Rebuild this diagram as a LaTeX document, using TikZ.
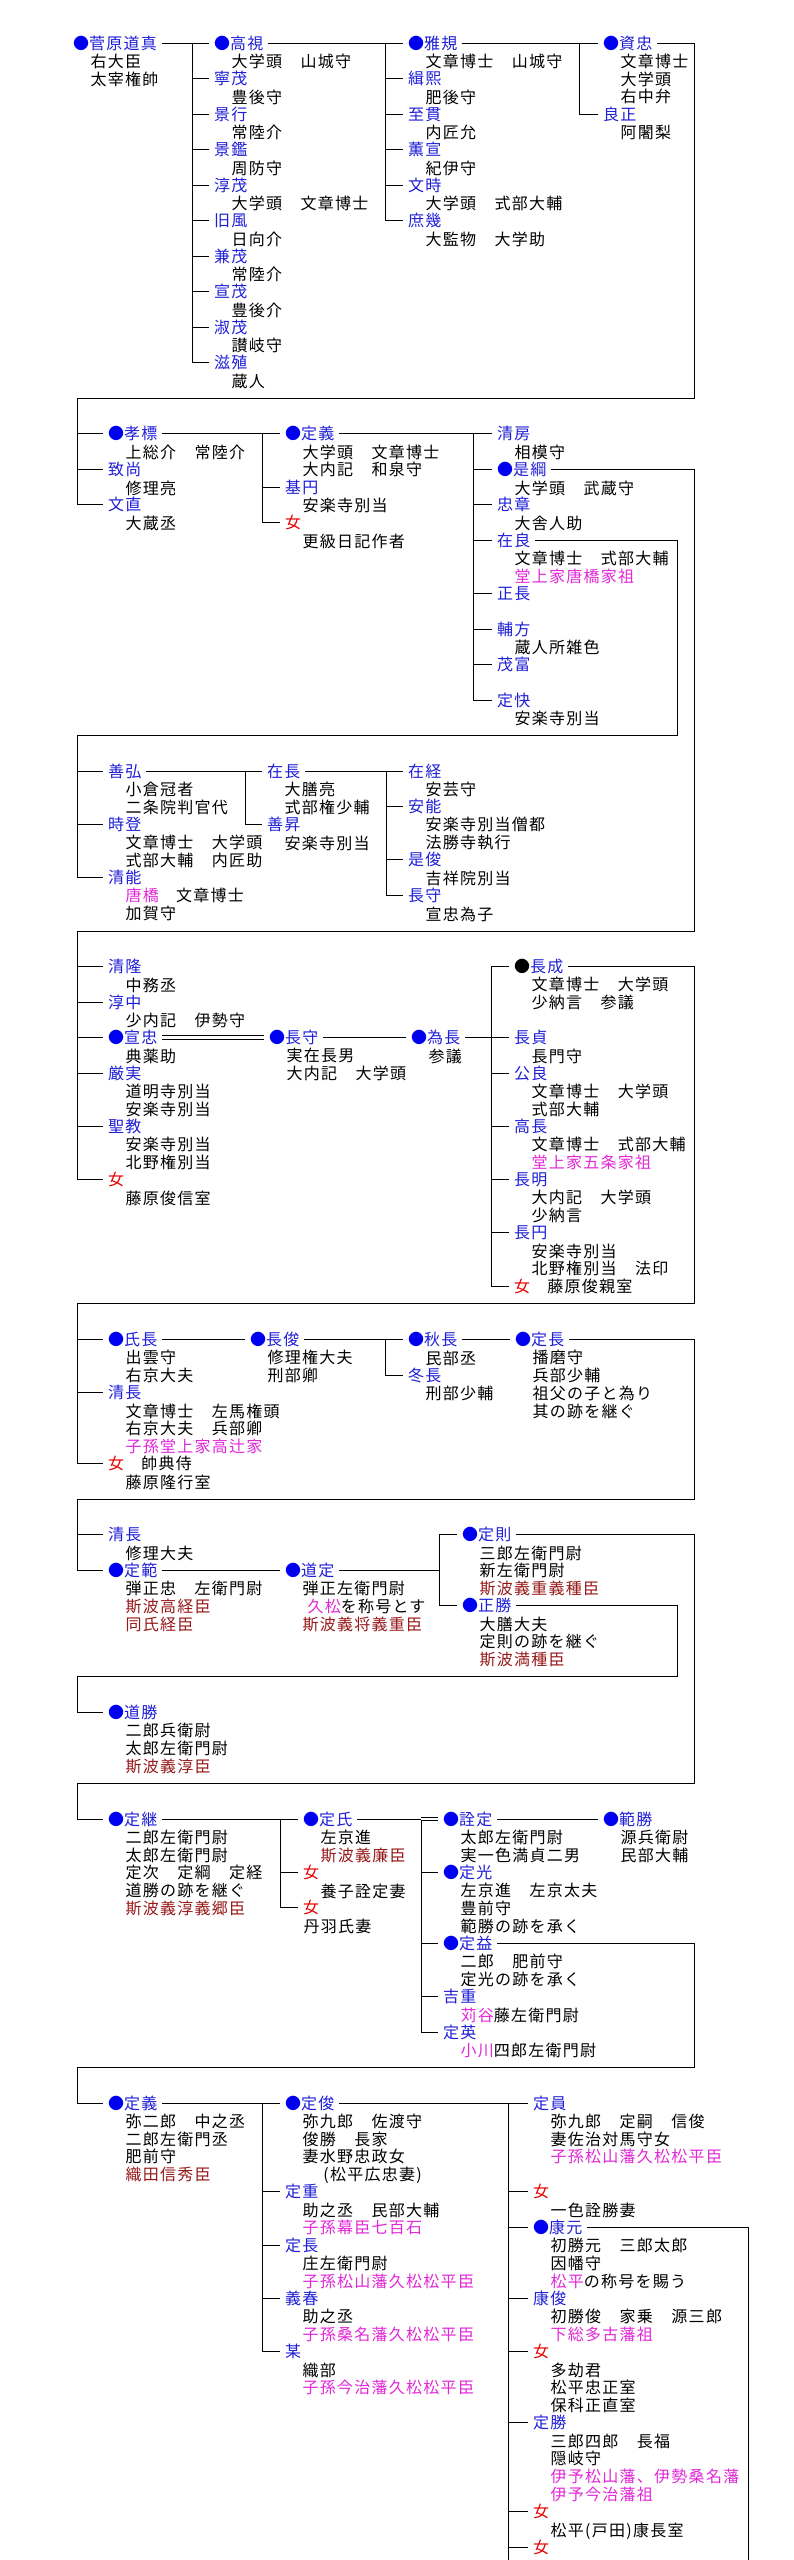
\documentclass[tikz,border=0pt]{standalone}
\usepackage{fontspec}
\newfontfamily\jp[LetterSpace=8]{Noto Sans CJK JP}
\usepackage{xcolor}
\usepackage{tikz}
\usetikzlibrary{positioning}

\definecolor{nmblue}{RGB}{30,30,215}
\definecolor{dotblue}{RGB}{0,0,240}
\definecolor{fred}{RGB}{230,0,0}
\definecolor{mgn}{RGB}{225,40,215}
\definecolor{drd}{RGB}{150,25,25}
\newcommand\bd{\textcolor{dotblue}{●}}
\newcommand\kd{\textcolor{black}{●}}
\newcommand\mg[1]{\textcolor{mgn}{#1}}
\newcommand\dr[1]{\textcolor{drd}{#1}}
\newcommand\bk[1]{\textcolor{black}{#1}}

\tikzset{
  nm/.style={anchor=west,inner sep=0pt,outer xsep=5pt,text height=14pt,text depth=2pt,text=nmblue,font=\jp\fontsize{16pt}{17.76pt}\selectfont},
  fm/.style={nm,text=fred},
  dt/.style={anchor=north west,inner sep=0pt,align=left,text=black,font=\jp\fontsize{16pt}{17.76pt}\selectfont,execute at begin node={\rule{0pt}{14pt}}},
  dbl/.style={double,double distance=2.5pt}
}

\begin{document}
\begin{tikzpicture}[x=1pt,y=-1pt,line width=1pt]
\useasboundingbox (0,0) rectangle (794,2560);
\begin{scope}[shift={(0,43)},y=-17.76pt]

\node[nm] (michizane) at (68,0) {\bd 菅原道真};
\node[dt,below right=1.8pt and 22pt of michizane.south west] (michizaneD) {右大臣\\太宰権帥};

\node[nm] (takami) at (209,0) {\bd 高視};
\node[dt,below right=1.8pt and 22pt of takami.south west] (takamiD) {大学頭　山城守};
\node[nm] (neishige) at (209,2) {寧茂};
\node[dt,below right=1.8pt and 22pt of neishige.south west] (neishigeD) {豊後守};
\node[nm] (kageyuki) at (209,4) {景行};
\node[dt,below right=1.8pt and 22pt of kageyuki.south west] (kageyukiD) {常陸介};
\node[nm] (kagekan) at (209,6) {景鑑};
\node[dt,below right=1.8pt and 22pt of kagekan.south west] (kagekanD) {周防守};
\node[nm] (atsushige) at (209,8) {淳茂};
\node[dt,below right=1.8pt and 22pt of atsushige.south west] (atsushigeD) {大学頭　文章博士};
\node[nm] (kyufu) at (209,10) {旧風};
\node[dt,below right=1.8pt and 22pt of kyufu.south west] (kyufuD) {日向介};
\node[nm] (kaneshige) at (209,12) {兼茂};
\node[dt,below right=1.8pt and 22pt of kaneshige.south west] (kaneshigeD) {常陸介};
\node[nm] (nobushige) at (209,14) {宣茂};
\node[dt,below right=1.8pt and 22pt of nobushige.south west] (nobushigeD) {豊後介};
\node[nm] (yoshishige) at (209,16) {淑茂};
\node[dt,below right=1.8pt and 22pt of yoshishige.south west] (yoshishigeD) {讃岐守};
\node[nm] (shigetane) at (209,18) {滋殖};
\node[dt,below right=1.8pt and 22pt of shigetane.south west] (shigetaneD) {蔵人};

\node[nm] (masanori) at (403,0) {\bd 雅規};
\node[dt,below right=1.8pt and 22pt of masanori.south west] (masanoriD) {文章博士　山城守};
\node[nm] (tsuguhiro) at (403,2) {緝熙};
\node[dt,below right=1.8pt and 22pt of tsuguhiro.south west] (tsuguhiroD) {肥後守};
\node[nm] (yukitsura) at (403,4) {至貫};
\node[dt,below right=1.8pt and 22pt of yukitsura.south west] (yukitsuraD) {内匠允};
\node[nm] (shigenobu) at (403,6) {薫宣};
\node[dt,below right=1.8pt and 22pt of shigenobu.south west] (shigenobuD) {紀伊守};
\node[nm] (fumitoki) at (403,8) {文時};
\node[dt,below right=1.8pt and 22pt of fumitoki.south west] (fumitokiD) {大学頭　式部大輔};
\node[nm] (koretika) at (403,10) {庶幾};
\node[dt,below right=1.8pt and 22pt of koretika.south west] (koretikaD) {大監物　大学助};

\node[nm] (suketada) at (598,0) {\bd 資忠};
\node[dt,below right=1.8pt and 22pt of suketada.south west] (suketadaD) {文章博士\\大学頭\\右中弁};
\node[nm] (yoshimasa) at (598,4) {良正};
\node[dt,below right=1.8pt and 22pt of yoshimasa.south west] (yoshimasaD) {阿闍梨};

\node[nm] (takasue) at (103,22) {\bd 孝標};
\node[dt,below right=1.8pt and 22pt of takasue.south west] (takasueD) {上総介　常陸介};
\node[nm] (munenao) at (103,24) {致尚};
\node[dt,below right=1.8pt and 22pt of munenao.south west] (munenaoD) {修理亮};
\node[nm] (fuminao) at (103,26) {文直};
\node[dt,below right=1.8pt and 22pt of fuminao.south west] (fuminaoD) {大蔵丞};

\node[nm] (sadayoshi) at (280,22) {\bd 定義};
\node[dt,below right=1.8pt and 22pt of sadayoshi.south west] (sadayoshiD) {大学頭　文章博士\\大内記　和泉守};
\node[nm] (kien) at (280,25) {基円};
\node[dt,below right=1.8pt and 22pt of kien.south west] (kienD) {安楽寺別当};
\node[fm] (sarashina) at (280,27) {女};
\node[dt,below right=1.8pt and 22pt of sarashina.south west] (sarashinaD) {更級日記作者};

\node[nm] (kiyofusa) at (492,22) {清房};
\node[dt,below right=1.8pt and 22pt of kiyofusa.south west] (kiyofusaD) {相模守};
\node[nm] (koretsuna) at (492,24) {\bd 是綱};
\node[dt,below right=1.8pt and 22pt of koretsuna.south west] (koretsunaD) {大学頭　武蔵守};
\node[nm] (tadaaki) at (492,26) {忠章};
\node[dt,below right=1.8pt and 22pt of tadaaki.south west] (tadaakiD) {大舎人助};
\node[nm] (ariyoshi) at (492,28) {在良};
\node[dt,below right=1.8pt and 22pt of ariyoshi.south west] (ariyoshiD) {文章博士　式部大輔\\\mg{堂上家唐橋家祖}};
\node[nm] (masanaga) at (492,31) {正長};
\node[nm] (sukekata) at (492,33) {輔方};
\node[dt,below right=1.8pt and 22pt of sukekata.south west] (sukekataD) {蔵人所雑色};
\node[nm] (shigetomi) at (492,35) {茂富};
\node[nm] (jokai) at (492,37) {定快};
\node[dt,below right=1.8pt and 22pt of jokai.south west] (jokaiD) {安楽寺別当};

\node[nm] (yoshihiro) at (103,41) {善弘};
\node[dt,below right=1.8pt and 22pt of yoshihiro.south west] (yoshihiroD) {小倉冠者\\二条院判官代};
\node[nm] (tokinori) at (103,44) {時登};
\node[dt,below right=1.8pt and 22pt of tokinori.south west] (tokinoriD) {文章博士　大学頭\\式部大輔　内匠助};
\node[nm] (kiyoyoshi) at (103,47) {清能};
\node[dt,below right=1.8pt and 22pt of kiyoyoshi.south west] (kiyoyoshiD) {\mg{唐橋}　文章博士\\加賀守};

\node[nm] (arinaga) at (262,41) {在長};
\node[dt,below right=1.8pt and 22pt of arinaga.south west] (arinagaD) {大膳亮\\式部権少輔};
\node[nm] (yoshinori) at (262,44) {善昇};
\node[dt,below right=1.8pt and 22pt of yoshinori.south west] (yoshinoriD) {安楽寺別当};

\node[nm] (aritsune) at (403,41) {在経};
\node[dt,below right=1.8pt and 22pt of aritsune.south west] (aritsuneD) {安芸守};
\node[nm] (anno) at (403,43) {安能};
\node[dt,below right=1.8pt and 22pt of anno.south west] (annoD) {安楽寺別当僧都\\法勝寺執行};
\node[nm] (koretoshi) at (403,46) {是俊};
\node[dt,below right=1.8pt and 22pt of koretoshi.south west] (koretoshiD) {吉祥院別当};
\node[nm] (nagamoriA) at (403,48) {長守};
\node[dt,below right=1.8pt and 22pt of nagamoriA.south west] (nagamoriAD) {宣忠為子};

\node[nm] (kiyotaka) at (103,52) {清隆};
\node[dt,below right=1.8pt and 22pt of kiyotaka.south west] (kiyotakaD) {中務丞};
\node[nm] (atsunaka) at (103,54) {淳中};
\node[dt,below right=1.8pt and 22pt of atsunaka.south west] (atsunakaD) {少内記　伊勢守};
\node[nm] (nobutada) at (103,56) {\bd 宣忠};
\node[dt,below right=1.8pt and 22pt of nobutada.south west] (nobutadaD) {典薬助};
\node[nm] (gonjitsu) at (103,58) {厳実};
\node[dt,below right=1.8pt and 22pt of gonjitsu.south west] (gonjitsuD) {道明寺別当\\安楽寺別当};
\node[nm] (shokyo) at (103,61) {聖教};
\node[dt,below right=1.8pt and 22pt of shokyo.south west] (shokyoD) {安楽寺別当\\北野権別当};
\node[fm] (daughterA) at (103,64) {女};
\node[dt,below right=1.8pt and 22pt of daughterA.south west] (daughterAD) {藤原俊信室};

\node[nm] (nagamori) at (264,56) {\bd 長守};
\node[dt,below right=1.8pt and 22pt of nagamori.south west] (nagamoriD) {実在長男\\大内記　大学頭};
\node[nm] (tamenaga) at (406,56) {\bd 為長};
\node[dt,below right=1.8pt and 22pt of tamenaga.south west] (tamenagaD) {参議};

\node[nm] (naganari) at (509,52) {\kd 長成};
\node[dt,below right=1.8pt and 22pt of naganari.south west] (naganariD) {文章博士　大学頭\\少納言　参議};
\node[nm] (nagasada) at (509,56) {長貞};
\node[dt,below right=1.8pt and 22pt of nagasada.south west] (nagasadaD) {長門守};
\node[nm] (kinyoshi) at (509,58) {公良};
\node[dt,below right=1.8pt and 22pt of kinyoshi.south west] (kinyoshiD) {文章博士　大学頭\\式部大輔};
\node[nm] (takanaga) at (509,61) {高長};
\node[dt,below right=1.8pt and 22pt of takanaga.south west] (takanagaD) {文章博士　式部大輔\\\mg{堂上家五条家祖}};
\node[nm] (nagaaki) at (509,64) {長明};
\node[dt,below right=1.8pt and 22pt of nagaaki.south west] (nagaakiD) {大内記　大学頭\\少納言};
\node[nm] (nagamaru) at (509,67) {長円};
\node[dt,below right=1.8pt and 22pt of nagamaru.south west] (nagamaruD) {安楽寺別当\\北野権別当　法印};
\node[fm] (daughterB) at (509,70) {女　\bk{藤原俊親室}};

\node[nm] (ujinaga) at (103,73) {\bd 氏長};
\node[dt,below right=1.8pt and 22pt of ujinaga.south west] (ujinagaD) {出雲守\\右京大夫};
\node[nm] (kiyonaga) at (103,76) {清長};
\node[dt,below right=1.8pt and 22pt of kiyonaga.south west] (kiyonagaD) {文章博士　左馬権頭\\右京大夫　兵部卿\\\mg{子孫堂上家高辻家}};
\node[fm] (daughterC) at (103,80) {女　\bk{帥典侍}};
\node[dt,below right=1.8pt and 22pt of daughterC.south west] (daughterCD) {藤原隆行室};

\node[nm] (nagatoshi) at (245,73) {\bd 長俊};
\node[dt,below right=1.8pt and 22pt of nagatoshi.south west] (nagatoshiD) {修理権大夫\\刑部卿};
\node[nm] (akinaga) at (403,73) {\bd 秋長};
\node[dt,below right=1.8pt and 22pt of akinaga.south west] (akinagaD) {民部丞};
\node[nm] (fuyunaga) at (403,75) {冬長};
\node[dt,below right=1.8pt and 22pt of fuyunaga.south west] (fuyunagaD) {刑部少輔};
\node[nm] (sadanaga) at (510,73) {\bd 定長};
\node[dt,below right=1.8pt and 22pt of sadanaga.south west] (sadanagaD) {播磨守\\兵部少輔\\祖父の子と為り\\其の跡を継ぐ};

\node[nm] (kiyonaga2) at (103,84) {清長};
\node[dt,below right=1.8pt and 22pt of kiyonaga2.south west] (kiyonaga2D) {修理大夫};
\node[nm] (sadanori) at (103,86) {\bd 定範};
\node[dt,below right=1.8pt and 22pt of sadanori.south west] (sadanoriD) {弾正忠　左衛門尉\\\dr{斯波高経臣}\\\dr{同氏経臣}};
\node[nm] (michisada) at (280,86) {\bd 道定};
\node[dt,below right=1.8pt and 22pt of michisada.south west] (michisadaD) {弾正左衛門尉\\\hspace*{5pt}\mg{久松}を称号とす\\\dr{斯波義将義重臣}};
\node[nm] (sadanori2) at (457,84) {\bd 定則};
\node[dt,below right=1.8pt and 22pt of sadanori2.south west] (sadanori2D) {三郎左衛門尉\\新左衛門尉\\\dr{斯波義重義種臣}};
\node[nm] (masakatsu) at (457,88) {\bd 正勝};
\node[dt,below right=1.8pt and 22pt of masakatsu.south west] (masakatsuD) {大膳大夫\\定則の跡を継ぐ\\\dr{斯波満種臣}};

\node[nm] (michikatsu) at (103,94) {\bd 道勝};
\node[dt,below right=1.8pt and 22pt of michikatsu.south west] (michikatsuD) {二郎兵衛尉\\太郎左衛門尉\\\dr{斯波義淳臣}};

\node[nm] (sadatsugu) at (103,100) {\bd 定継};
\node[dt,below right=1.8pt and 22pt of sadatsugu.south west] (sadatsuguD) {二郎左衛門尉\\太郎左衛門尉\\定次　定綱　定経\\道勝の跡を継ぐ\\\dr{斯波義淳義郷臣}};
\node[nm] (sadauji) at (298,100) {\bd 定氏};
\node[dt,below right=1.8pt and 22pt of sadauji.south west] (sadaujiD) {左京進\\\dr{斯波義廉臣}};
\node[fm] (daughterD) at (298,103) {女};
\node[dt,below right=1.8pt and 22pt of daughterD.south west] (daughterDD) {養子詮定妻};
\node[fm] (daughterE) at (298,105) {女};
\node[dt,below right=1.8pt and 5pt of daughterE.south west] (daughterED) {丹羽氏妻};

\node[nm] (akisada) at (438,100) {\bd 詮定};
\node[dt,below right=1.8pt and 22pt of akisada.south west] (akisadaD) {太郎左衛門尉\\実一色満貞二男};
\node[nm] (sadamitsu) at (438,103) {\bd 定光};
\node[dt,below right=1.8pt and 22pt of sadamitsu.south west] (sadamitsuD) {左京進　左京太夫\\豊前守\\範勝の跡を承く};
\node[nm] (sadamasu) at (438,107) {\bd 定益};
\node[dt,below right=1.8pt and 22pt of sadamasu.south west] (sadamasuD) {二郎　肥前守\\定光の跡を承く};
\node[nm] (yoshishige2) at (438,110) {吉重};
\node[dt,below right=1.8pt and 22pt of yoshishige2.south west] (yoshishige2D) {\mg{苅谷}藤左衛門尉};
\node[nm] (sadahide) at (438,112) {定英};
\node[dt,below right=1.8pt and 22pt of sadahide.south west] (sadahideD) {\mg{小川}四郎左衛門尉};
\node[nm] (norikatsu) at (598,100) {\bd 範勝};
\node[dt,below right=1.8pt and 22pt of norikatsu.south west] (norikatsuD) {源兵衛尉\\民部大輔};

\node[nm] (sadayoshi2) at (103,116) {\bd 定義};
\node[dt,below right=1.8pt and 22pt of sadayoshi2.south west] (sadayoshi2D) {弥二郎　中之丞\\二郎左衛門丞\\肥前守\\\dr{織田信秀臣}};

\node[nm] (sadatoshi) at (280,116) {\bd 定俊};
\node[dt,below right=1.8pt and 22pt of sadatoshi.south west] (sadatoshiD) {弥九郎　佐渡守\\俊勝　長家\\妻水野忠政女\\　 (松平広忠妻)};
\node[nm] (sadashige) at (280,121) {定重};
\node[dt,below right=1.8pt and 22pt of sadashige.south west] (sadashigeD) {助之丞　民部大輔\\\mg{子孫幕臣七百石}};
\node[nm] (sadanaga2) at (280,124) {定長};
\node[dt,below right=1.8pt and 22pt of sadanaga2.south west] (sadanaga2D) {庄左衛門尉\\\mg{子孫松山藩久松松平臣}};
\node[nm] (yoshiharu) at (280,127) {義春};
\node[dt,below right=1.8pt and 22pt of yoshiharu.south west] (yoshiharuD) {助之丞\\\mg{子孫桑名藩久松松平臣}};
\node[nm] (bou) at (280,130) {某};
\node[dt,below right=1.8pt and 22pt of bou.south west] (bouD) {織部\\\mg{子孫今治藩久松松平臣}};

\node[nm] (sadakazu) at (528,116) {定員};
\node[dt,below right=1.8pt and 22pt of sadakazu.south west] (sadakazuD) {弥九郎　定嗣　信俊\\妻佐治対馬守女\\\mg{子孫松山藩久松松平臣}};
\node[fm] (daughterF) at (528,121) {女};
\node[dt,below right=1.8pt and 22pt of daughterF.south west] (daughterFD) {一色詮勝妻};
\node[nm] (yasumoto) at (528,123) {\bd 康元};
\node[dt,below right=1.8pt and 22pt of yasumoto.south west] (yasumotoD) {初勝元　三郎太郎\\因幡守\\\mg{松平}の称号を賜う};
\node[nm] (yasutoshi) at (528,127) {康俊};
\node[dt,below right=1.8pt and 22pt of yasutoshi.south west] (yasutoshiD) {初勝俊　家乗　源三郎\\\mg{下総多古藩祖}};
\node[fm] (daughterG) at (528,130) {女};
\node[dt,below right=1.8pt and 22pt of daughterG.south west] (daughterGD) {多劫君\\松平忠正室\\保科正直室};
\node[nm] (sadakatsu) at (528,134) {定勝};
\node[dt,below right=1.8pt and 22pt of sadakatsu.south west] (sadakatsuD) {三郎四郎　長福\\隠岐守\\\mg{伊予松山藩、伊勢桑名藩}\\\mg{伊予今治藩祖}};
\node[fm] (daughterH) at (528,139) {女};
\node[dt,below right=1.8pt and 22pt of daughterH.south west] (daughterHD) {松平(戸田)康長室};
\node[fm] (daughterI) at (528,141) {女};

\coordinate (michizaneB) at (192,0);
\coordinate (takamiB) at (385,0);
\coordinate (masanoriB) at (579,0);
\coordinate (suketadaR) at (694,20);
\coordinate (suketadaB) at (77,20);
\coordinate (takasueB) at (262,22);
\coordinate (sadayoshiB) at (473,22);
\coordinate (ariyoshiR) at (677,39);
\coordinate (ariyoshiB) at (77,39);
\coordinate (yoshihiroB) at (245,41);
\coordinate (arinagaB) at (386,41);
\coordinate (koretsunaR) at (694,50);
\coordinate (koretsunaB) at (77,50);
\coordinate (tamenagaB) at (491,52);
\coordinate (naganariR) at (694,71);
\coordinate (naganariB) at (77,71);
\coordinate (nagatoshiB) at (385,73);
\coordinate (sadanagaR) at (694,82);
\coordinate (sadanagaB) at (77,82);
\coordinate (michisadaB) at (439,84);
\coordinate (masakatsuR) at (677,92);
\coordinate (masakatsuB) at (77,92);
\coordinate (sadanori2R) at (694,98);
\coordinate (sadanori2B) at (77,98);
\coordinate (sadatsuguB) at (280,100);
\coordinate (sadaujiB) at (421,100);
\coordinate (sadamasuR) at (694,114);
\coordinate (sadamasuB) at (77,114);
\coordinate (sadayoshi2B) at (262,116);
\coordinate (sadatoshiB) at (508,116);
\coordinate (sadatoshiE) at (508,142);
\coordinate (yasumotoR) at (748,142);

\draw (michizane.east) -- (michizane.east -| michizaneB) -- (shigetane.west -| michizaneB);
\foreach \c in {takami,neishige,kageyuki,kagekan,atsushige,kyufu,kaneshige,nobushige,yoshishige,shigetane}
  \draw (\c.west -| michizaneB) -- (\c.west);
\draw (takami.east) -- (takami.east -| takamiB) -- (koretika.west -| takamiB);
\foreach \c in {masanori,tsuguhiro,yukitsura,shigenobu,fumitoki,koretika}
  \draw (\c.west -| takamiB) -- (\c.west);
\draw (masanori.east) -- (masanori.east -| masanoriB) -- (yoshimasa.west -| masanoriB);
\foreach \c in {suketada,yoshimasa}
  \draw (\c.west -| masanoriB) -- (\c.west);

\draw (suketada.east) -| (suketadaR) -- (suketadaB) -- (fuminao.west -| suketadaB);
\foreach \c in {takasue,munenao,fuminao}
  \draw (\c.west -| suketadaB) -- (\c.west);
\draw (takasue.east) -- (takasueB) -- (sarashina.west -| takasueB);
\foreach \c in {sadayoshi,kien,sarashina}
  \draw (\c.west -| takasueB) -- (\c.west);
\draw (sadayoshi.east) -- (sadayoshiB) -- (jokai.west -| sadayoshiB);
\foreach \c in {kiyofusa,koretsuna,tadaaki,ariyoshi,masanaga,sukekata,shigetomi,jokai}
  \draw (\c.west -| sadayoshiB) -- (\c.west);

\draw (ariyoshi.east) -| (ariyoshiR) -- (ariyoshiB) -- (kiyoyoshi.west -| ariyoshiB);
\foreach \c in {yoshihiro,tokinori,kiyoyoshi}
  \draw (\c.west -| ariyoshiB) -- (\c.west);
\draw (yoshihiro.east) -- (yoshihiroB) -- (yoshinori.west -| yoshihiroB);
\foreach \c in {arinaga,yoshinori}
  \draw (\c.west -| yoshihiroB) -- (\c.west);
\draw (arinaga.east) -- (arinagaB) -- (nagamoriA.west -| arinagaB);
\foreach \c in {aritsune,anno,koretoshi,nagamoriA}
  \draw (\c.west -| arinagaB) -- (\c.west);

\draw (koretsuna.east) -| (koretsunaR) -- (koretsunaB) -- (daughterA.west -| koretsunaB);
\foreach \c in {kiyotaka,atsunaka,nobutada,gonjitsu,shokyo,daughterA}
  \draw (\c.west -| koretsunaB) -- (\c.west);
\draw[dbl] (nobutada.east) -- (nagamori.west);
\draw (nagamori.east) -- (tamenaga.west);
\draw (tamenaga.east) -- (tamenaga.east -| tamenagaB);
\draw (tamenagaB) -- (daughterB.west -| tamenagaB);
\foreach \c in {naganari,nagasada,kinyoshi,takanaga,nagaaki,nagamaru,daughterB}
  \draw (\c.west -| tamenagaB) -- (\c.west);

\draw (naganari.east) -| (naganariR) -- (naganariB) -- (daughterC.west -| naganariB);
\foreach \c in {ujinaga,kiyonaga,daughterC}
  \draw (\c.west -| naganariB) -- (\c.west);
\draw (ujinaga.east) -- (nagatoshi.west);
\draw (nagatoshi.east) -- (nagatoshiB) -- (fuyunaga.west -| nagatoshiB);
\foreach \c in {akinaga,fuyunaga}
  \draw (\c.west -| nagatoshiB) -- (\c.west);
\draw (akinaga.east) -- (sadanaga.west);

\draw (sadanaga.east) -| (sadanagaR) -- (sadanagaB) -- (sadanori.west -| sadanagaB);
\foreach \c in {kiyonaga2,sadanori}
  \draw (\c.west -| sadanagaB) -- (\c.west);
\draw (sadanori.east) -- (michisada.west);
\draw (michisada.east) -- (michisada.east -| michisadaB);
\draw (michisadaB) -- (masakatsu.west -| michisadaB);
\foreach \c in {sadanori2,masakatsu}
  \draw (\c.west -| michisadaB) -- (\c.west);

\draw (masakatsu.east) -| (masakatsuR) -- (masakatsuB) -- (michikatsu.west -| masakatsuB) -- (michikatsu.west);

\draw (sadanori2.east) -| (sadanori2R) -- (sadanori2B) -- (sadatsugu.west -| sadanori2B) -- (sadatsugu.west);
\draw (sadatsugu.east) -- (sadatsuguB) -- (daughterE.west -| sadatsuguB);
\foreach \c in {sadauji,daughterD,daughterE}
  \draw (\c.west -| sadatsuguB) -- (\c.west);
\draw (sadauji.east) -- (sadaujiB) -- (sadahide.west -| sadaujiB);
\draw[dbl] (akisada.west -| sadaujiB) -- (akisada.west);
\foreach \c in {sadamitsu,sadamasu,yoshishige2,sadahide}
  \draw (\c.west -| sadaujiB) -- (\c.west);
\draw (akisada.east) -- (norikatsu.west);

\draw (sadamasu.east) -| (sadamasuR) -- (sadamasuB) -- (sadayoshi2.west -| sadamasuB) -- (sadayoshi2.west);
\draw (sadayoshi2.east) -- (sadayoshi2B) -- (bou.west -| sadayoshi2B);
\foreach \c in {sadatoshi,sadashige,sadanaga2,yoshiharu,bou}
  \draw (\c.west -| sadayoshi2B) -- (\c.west);
\draw (sadatoshi.east) -- (sadatoshiB) -- (sadatoshiE);
\foreach \c in {sadakazu,daughterF,yasumoto,yasutoshi,daughterG,sadakatsu,daughterH,daughterI}
  \draw (\c.west -| sadatoshiB) -- (\c.west);
\draw (yasumoto.east) -| (yasumotoR);

\end{scope}
\end{tikzpicture}
\end{document}
